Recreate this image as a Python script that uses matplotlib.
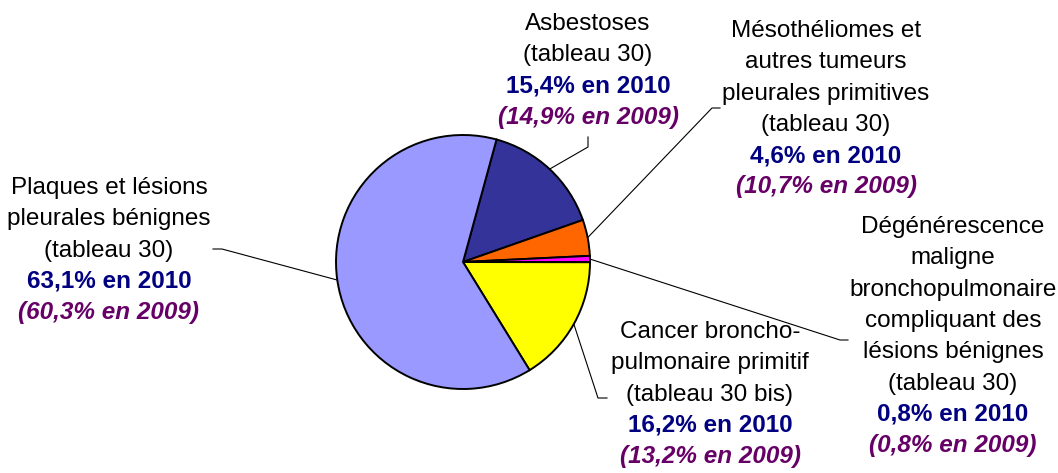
import numpy as np
import matplotlib
matplotlib.use("Agg")
import matplotlib.pyplot as plt

# ---- data ----
categories = [
    "Asbestoses",
    "Mésothéliomes et autres tumeurs pleurales primitives",
    "Dégénérescence maligne bronchopulmonaire compliquant des lésions bénignes",
    "Cancer broncho-pulmonaire primitif",
    "Plaques et lésions pleurales bénignes",
]
values_2010 = [15.4, 4.6, 0.8, 16.2, 63.1]
values_2009 = [14.9, 10.7, 0.8, 13.2, 60.3]
label_lines = [
    ["Asbestoses", "(tableau 30)"],
    ["Mésothéliomes et", "autres tumeurs", "pleurales primitives", "(tableau 30)"],
    ["Dégénérescence", "maligne", "bronchopulmonaire", "compliquant des",
     "lésions bénignes", "(tableau 30)"],
    ["Cancer broncho-", "pulmonaire primitif", "(tableau 30 bis)"],
    ["Plaques et lésions", "pleurales bénignes", "(tableau 30)"],
]
colors = ["#333399", "#FF6600", "#FF00FF", "#FFFF00", "#9999FF"]

W, H = 1058, 473
plt.rcParams['font.family'] = ['Liberation Sans', 'DejaVu Sans']
fig = plt.figure(figsize=(W / 100, H / 100), dpi=100)
ax = fig.add_axes([0, 0, 1, 1])
ax.set_xlim(0, W)
ax.set_ylim(0, H)
ax.set_aspect('equal')
ax.axis('off')

def Y(yp):
    return H - yp

cx, cy, R = 463, Y(262), 127
wedges, _ = ax.pie(values_2010, colors=colors, startangle=74.7, counterclock=False,
                   center=(cx, cy), radius=R, frame=True,
                   wedgeprops=dict(edgecolor='black', linewidth=1.4))
ax.set_xlim(0, W)
ax.set_ylim(0, H)
ax.axis('off')

# label layout: (center x, first baseline y px), leader elbow and end (px)
layout = [
    dict(x=588, y0=30, elbow=(588, 147), end=(588, 137)),
    dict(x=826, y0=37, elbow=(712, 108), end=(720, 108)),
    dict(x=953, y0=233, elbow=(840, 340), end=(848, 340)),
    dict(x=710, y0=338, elbow=(598, 398), end=(607, 398)),
    dict(x=109, y0=194, elbow=(222, 249), end=(213, 249)),
]
spacing = 31.3
fs = 17.5

for w, lines, v10, v09, lay in zip(wedges, label_lines, values_2010, values_2009, layout):
    mid = np.deg2rad((w.theta1 + w.theta2) / 2)
    sx, sy = cx + R * np.cos(mid), cy + R * np.sin(mid)
    ex, ey = lay['elbow']
    fx, fy = lay['end']
    ax.plot([sx, ex, fx], [sy, Y(ey), Y(fy)], color='black', lw=0.8, zorder=1)
    y = lay['y0']
    for ln in lines:
        ax.text(lay['x'], Y(y), ln, ha='center', va='baseline', fontsize=fs, color='black')
        y += spacing
    s10 = f"{v10:.1f}".replace('.', ',') + "% en 2010"
    s09 = "(" + f"{v09:.1f}".replace('.', ',') + "% en 2009)"
    ax.text(lay['x'], Y(y), s10, ha='center', va='baseline', fontsize=fs,
            color='#000080', fontweight='bold')
    y += spacing
    ax.text(lay['x'], Y(y), s09, ha='center', va='baseline', fontsize=fs,
            color='#660066', fontweight='bold', fontstyle='italic')

fig.savefig("out.png", dpi=100)
